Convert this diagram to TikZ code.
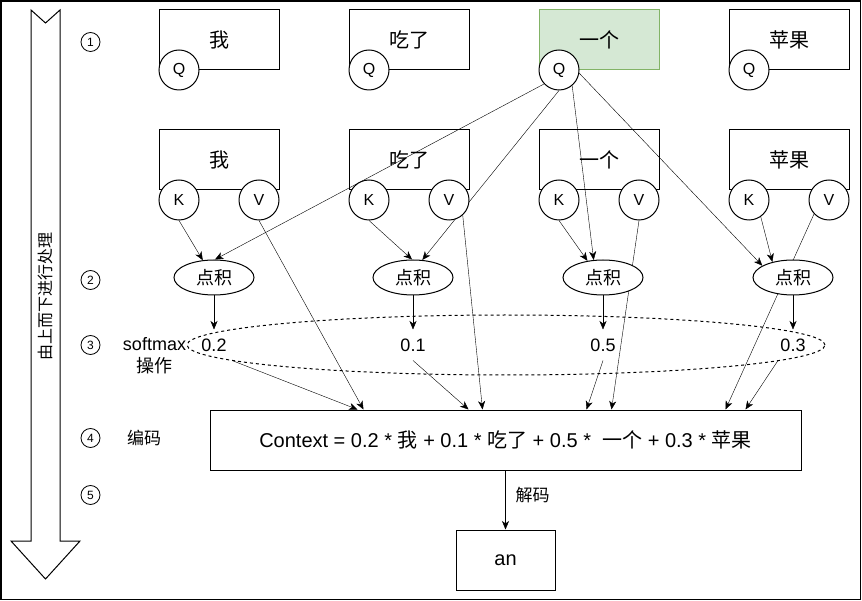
\documentclass[tikz,border=0pt]{standalone}
\usepackage{fontspec}
\setmainfont{Liberation Sans}
\newfontfamily\cjk{Noto Sans CJK SC}
\usetikzlibrary{shapes.geometric,arrows.meta,calc,backgrounds}
\newcommand\fsz[1]{\fontsize{#1}{#1}\selectfont}
\definecolor{gfill}{HTML}{D5E8D4}
\definecolor{gline}{HTML}{82B366}
\begin{document}
\begin{tikzpicture}[x=1pt,y=-1pt,line width=1pt,
  wbox/.style={draw,minimum width=120,minimum height=60,inner sep=0pt,font=\fsz{20}\cjk},
  gbox/.style={wbox,fill=gfill,draw=gline},
  rnd/.style={circle,draw,fill=white,minimum size=40,inner sep=0pt,font=\fsz{16}},
  dotp/.style={ellipse,draw,fill=white,minimum width=80,minimum height=35,inner sep=0pt,font=\fsz{18}\cjk},
  val/.style={minimum width=40,minimum height=30,inner sep=0pt,font=\fsz{18}},
  num/.style={circle,draw,minimum size=19,inner sep=0pt,line width=0.8pt,font=\fsz{12}},
  arr/.style={-{Stealth[length=8.5pt,width=7pt,inset=2.5pt]}},
  lab/.style={inner sep=0pt,font=\fsz{17}\cjk}]
\useasboundingbox (0,0) rectangle (862,601);
\draw[line width=1.5pt] (1,1) rectangle (860.5,599.5);

% big flow arrow
\draw (31,10) -- (45.5,23) -- (60,10) -- (60,541) -- (80,541) -- (45.5,579) -- (11,541) -- (31,541) -- cycle;
\node[rotate=90,inner sep=0pt,font=\fsz{16}\cjk] (flow) at (45.5,297) {由上而下进行处理};

% step numbers
\node[num] (n1) at (90.5,42) {1};
\node[num] (n2) at (90.5,280) {2};
\node[num] (n3) at (90.5,345) {3};
\node[num] (n4) at (90.5,438) {4};
\node[num] (n5) at (90.5,495) {5};

% word boxes
\node[wbox] (t1) at (219,40) {我};
\node[wbox] (t2) at (409,40) {吃了};
\node[gbox] (t3) at (599,40) {一个};
\node[wbox] (t4) at (789,40) {苹果};
\node[wbox] (b1) at (219,160) {我};
\node[wbox] (b2) at (409,160) {吃了};
\node[wbox] (b3) at (599,160) {一个};
\node[wbox] (b4) at (789,160) {苹果};

% Q K V circles
\node[rnd] (q1) at (179,70) {Q};
\node[rnd] (q2) at (369,70) {Q};
\node[rnd] (q3) at (559,70) {Q};
\node[rnd] (q4) at (749,70) {Q};
\node[rnd] (k1) at (179,200) {K};
\node[rnd] (k2) at (369,200) {K};
\node[rnd] (k3) at (559,200) {K};
\node[rnd] (k4) at (749,200) {K};
\node[rnd] (w1) at (259,200) {V};
\node[rnd] (w2) at (449,200) {V};
\node[rnd] (w3) at (639,200) {V};
\node[rnd] (w4) at (829,200) {V};

% dot products
\node[dotp] (e1) at (214,277.5) {点积};
\node[dotp] (e2) at (413,277.5) {点积};
\node[dotp] (e3) at (603,277.5) {点积};
\node[dotp] (e4) at (793,277.5) {点积};

% softmax values
\node[ellipse,draw,dash pattern=on 3pt off 3pt,minimum width=638,minimum height=60,inner sep=0pt] (sm) at (506,345) {};
\node[val] (v1) at (214,345) {0.2};
\node[val] (v2) at (413,345) {0.1};
\node[val] (v3) at (603,345) {0.5};
\node[val] (v4) at (793,345) {0.3};
\node[align=center,inner sep=0pt,font=\fontsize{18}{22}\selectfont] (smx) at (154.5,356) {softmax\\{\cjk 操作}};

\node[lab] (enc) at (144,438) {编码};
\node[draw,minimum width=591,minimum height=60,inner sep=0pt,font=\fsz{20}] (cb) at (505.5,440)
  {Context = 0.2 * {\cjk 我} + 0.1 * {\cjk 吃了} + 0.5 * \ {\cjk 一个} + 0.3 * {\cjk 苹果}};
\node[draw,minimum width=99,minimum height=60,inner sep=0pt,font=\fsz{20}] (an) at (505.5,560) {an};

\begin{scope}[on background layer,arr]
  \draw (k1.south) -- (e1.123);
  \draw (q3.223) -- (e1.87);
  \draw (k2.south) -- (e2.93);
  \draw (q3.south) -- (e2.62);
  \draw (k3.south) -- (e3.133);
  \draw (q3.-50) -- (e3.118);
  \draw (k4.-55) -- (e4.143);
  \draw (q3.-9) -- (e4.159);
  \draw (e1.south) -- (v1.north);
  \draw (e2.south) -- (v2.north);
  \draw (e3.south) -- (v3.north);
  \draw (e4.south) -- (v4.north);
  \draw ($(v1.south)+(18,0)$) -- ($(cb.north west)+(148,0)$);
  \draw (w1.south) -- ($(cb.north west)+(154,0)$);
  \draw (v2.south) -- ($(cb.north west)+(259,0)$);
  \draw (w2.-48) -- ($(cb.north west)+(273,0)$);
  \draw (v3.south) -- ($(cb.north west)+(377,0)$);
  \draw (w3.south) -- ($(cb.north west)+(402,0)$);
  \draw (w4.223) -- ($(cb.north west)+(516,0)$);
  \draw ($(v4.south)+(-15,0)$) -- ($(cb.north west)+(536,0)$);
  \draw (cb.south) -- node[pos=0.42,anchor=west,xshift=10pt,lab] (dec) {解码} (an.north);
\end{scope}
\end{tikzpicture}
\end{document}
